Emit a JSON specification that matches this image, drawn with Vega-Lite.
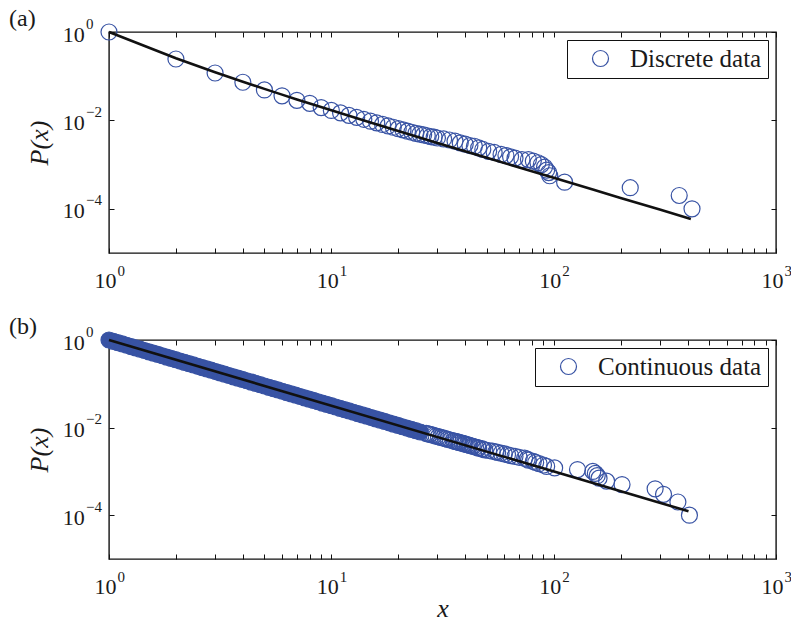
{
  "$schema": "https://vega.github.io/schema/vega-lite/v6.json",
  "padding": {"left": 8, "top": 6, "right": 0, "bottom": 0},
  "background": "white",
  "spacing": 22,
  "resolve": {"scale": {"color": "independent"}, "legend": {"color": "independent"}},
  "config": {
    "font": "Liberation Serif",
    "view": {"stroke": "#111", "strokeWidth": 1.4},
    "axis": {"grid": false, "domain": false, "labelFont": "Liberation Serif", "labelColor": "#1a1a1a", "titleFont": "Liberation Serif", "titleFontWeight": "normal", "titleColor": "#1a1a1a", "tickColor": "#111", "labelFlush": false, "labelOverlap": false},
    "legend": {"orient": "top-right", "offset": 8, "strokeColor": "#111", "fillColor": "white", "padding": 6, "labelFont": "Liberation Serif", "labelFontSize": 25, "labelLimit": 400, "labelColor": "#1a1a1a", "symbolSize": 256, "symbolStrokeWidth": 1.2, "symbolType": "circle", "symbolOffset": 15, "labelOffset": 17}
  },
  "datasets": {
    "disc": [
      {"x":1,"y":1},{"x":2,"y":0.245},{"x":3,"y":0.118},{"x":4,"y":0.073},{"x":5,"y":0.049},{"x":6,"y":0.036},{"x":7,"y":0.0285},{"x":8,"y":0.0243},{"x":9,"y":0.0195},{"x":10,"y":0.0168},
      {"x":11,"y":0.0148},{"x":12,"y":0.0130},{"x":13,"y":0.0117},{"x":14,"y":0.0106},{"x":15,"y":0.0096},{"x":16,"y":0.0088},{"x":17,"y":0.0081},{"x":18,"y":0.0075},{"x":19,"y":0.0070},{"x":20,"y":0.0065},
      {"x":21,"y":0.0061},{"x":22,"y":0.0057},{"x":23,"y":0.0054},{"x":24,"y":0.0051},{"x":25,"y":0.0049},{"x":26,"y":0.0047},{"x":27,"y":0.0045},{"x":28,"y":0.0043},{"x":29,"y":0.0042},{"x":30,"y":0.0040},
      {"x":32,"y":0.0038},{"x":34,"y":0.0036},{"x":36,"y":0.0034},{"x":38,"y":0.0031},{"x":40,"y":0.0029},{"x":42,"y":0.0027},{"x":44,"y":0.0026},{"x":46,"y":0.0024},{"x":48,"y":0.0022},{"x":51,"y":0.0020},
      {"x":54,"y":0.0019},{"x":58,"y":0.0017},{"x":61,"y":0.0016},{"x":64,"y":0.0015},{"x":67,"y":0.0014},{"x":72,"y":0.0013},{"x":77,"y":0.0013},{"x":81,"y":0.0012},{"x":85,"y":0.0011},{"x":88,"y":0.0010},
      {"x":91,"y":0.00088},{"x":93,"y":0.00075},{"x":95,"y":0.00066},{"x":96,"y":0.00056},{"x":112,"y":0.00040},{"x":221,"y":0.00030},{"x":367,"y":0.00020},{"x":419,"y":0.00010}
    ],
    "fitd": [
      {"x":1,"y":1},{"x":2,"y":0.2546},{"x":3,"y":0.1228},{"x":4,"y":0.0750},{"x":5,"y":0.05166},{"x":6,"y":0.03832},{"x":7,"y":0.02987},{"x":8,"y":0.02412},{"x":10,"y":0.01694},{"x":15,"y":0.00900},
      {"x":20,"y":0.00577},{"x":30,"y":0.00310},{"x":50,"y":0.001427},{"x":70,"y":0.000858},{"x":100,"y":0.000501},{"x":150,"y":0.000272},{"x":200,"y":0.000176},{"x":300,"y":0.0000959},{"x":414,"y":0.000059}
    ],
    "fitc": [{"x":1,"y":1},{"x":404,"y":0.000123}],
    "band": [
      {"x":1,"y":1},{"x":1.047,"y":0.9333},{"x":1.096,"y":0.8710},{"x":1.148,"y":0.8128},{"x":1.202,"y":0.7586},{"x":1.259,"y":0.7079},{"x":1.318,"y":0.6607},{"x":1.380,"y":0.6166},{"x":1.445,"y":0.5754},{"x":1.514,"y":0.5370},
      {"x":1.585,"y":0.5012},{"x":1.660,"y":0.4677},{"x":1.738,"y":0.4365},{"x":1.820,"y":0.4074},{"x":1.905,"y":0.3802},{"x":1.995,"y":0.3548},{"x":2.089,"y":0.3311},{"x":2.188,"y":0.3090},{"x":2.291,"y":0.2884},{"x":2.399,"y":0.2692},
      {"x":2.512,"y":0.2512},{"x":2.630,"y":0.2344},{"x":2.754,"y":0.2188},{"x":2.884,"y":0.2042},{"x":3.020,"y":0.1905},{"x":3.162,"y":0.1778},{"x":3.311,"y":0.1660},{"x":3.467,"y":0.1549},{"x":3.631,"y":0.1445},{"x":3.802,"y":0.1349},
      {"x":3.981,"y":0.1259},{"x":4.169,"y":0.1175},{"x":4.365,"y":0.1096},{"x":4.571,"y":0.1023},{"x":4.786,"y":0.09550},{"x":5.012,"y":0.08913},{"x":5.248,"y":0.08318},{"x":5.495,"y":0.07762},{"x":5.754,"y":0.07244},{"x":6.026,"y":0.06761},
      {"x":6.310,"y":0.06310},{"x":6.607,"y":0.05888},{"x":6.918,"y":0.05495},{"x":7.244,"y":0.05129},{"x":7.586,"y":0.04786},{"x":7.943,"y":0.04467},{"x":8.318,"y":0.04169},{"x":8.710,"y":0.03890},{"x":9.120,"y":0.03631},{"x":9.550,"y":0.03388},
      {"x":10.00,"y":0.03162},{"x":10.47,"y":0.02951},{"x":10.96,"y":0.02754},{"x":11.48,"y":0.02570},{"x":12.02,"y":0.02399},{"x":12.59,"y":0.02239},{"x":13.18,"y":0.02089},{"x":13.80,"y":0.01950},{"x":14.45,"y":0.01820},{"x":15.14,"y":0.01698},
      {"x":15.85,"y":0.01585},{"x":16.60,"y":0.01479},{"x":17.38,"y":0.01380},{"x":18.20,"y":0.01288},{"x":19.05,"y":0.01202},{"x":19.95,"y":0.01122},{"x":20.89,"y":0.01047},{"x":21.88,"y":0.009772},{"x":22.91,"y":0.009120},{"x":23.99,"y":0.008511},
      {"x":25.12,"y":0.007943}
    ],
    "cont": [
      {"x":26.7,"y":0.0074},{"x":27.2,"y":0.0072},{"x":27.8,"y":0.0070},{"x":28.4,"y":0.0068},{"x":29.0,"y":0.0066},{"x":29.6,"y":0.0064},{"x":30.3,"y":0.0062},{"x":31.0,"y":0.0060},{"x":31.8,"y":0.0058},{"x":32.6,"y":0.0056},
      {"x":33.4,"y":0.0054},{"x":34.3,"y":0.0052},{"x":35.3,"y":0.0050},{"x":35.8,"y":0.0049},{"x":36.4,"y":0.0048},{"x":37.0,"y":0.0047},{"x":37.5,"y":0.0046},{"x":38.0,"y":0.0045},{"x":38.8,"y":0.0044},{"x":39.5,"y":0.0043},
      {"x":40.0,"y":0.0042},{"x":40.8,"y":0.0041},{"x":41.5,"y":0.0040},{"x":42.0,"y":0.0039},{"x":43.0,"y":0.0038},{"x":43.5,"y":0.0037},{"x":44.5,"y":0.0036},{"x":45.5,"y":0.0035},{"x":46.0,"y":0.0034},{"x":47.5,"y":0.0033},
      {"x":48.0,"y":0.0032},{"x":49.0,"y":0.0031},{"x":51,"y":0.0030},{"x":53,"y":0.0029},{"x":55,"y":0.0028},{"x":56,"y":0.0027},{"x":58,"y":0.0026},{"x":60,"y":0.0025},{"x":62,"y":0.0024},{"x":64,"y":0.0023},
      {"x":67,"y":0.0022},{"x":70,"y":0.0021},{"x":74,"y":0.0020},{"x":76,"y":0.0019},{"x":77,"y":0.0018},{"x":81,"y":0.0017},{"x":83,"y":0.0016},{"x":86,"y":0.0015},{"x":90,"y":0.0014},{"x":93,"y":0.0013},
      {"x":101,"y":0.0012},{"x":128,"y":0.0011},{"x":150,"y":0.0010},{"x":154,"y":0.0009},{"x":157,"y":0.0008},{"x":160,"y":0.0007},{"x":173,"y":0.0006},{"x":203,"y":0.0005},{"x":286,"y":0.0004},{"x":312,"y":0.0003},
      {"x":362,"y":0.0002},{"x":408,"y":0.0001}
    ]
  },
  "vconcat": [
    {
      "width": 667,
      "height": 221,
      "title": {"text": "(a)", "anchor": "start", "frame": "group", "dx": -100, "dy": 10, "offset": -24, "fontSize": 24, "fontWeight": "normal", "font": "Liberation Serif", "color": "#1a1a1a", "baseline": "alphabetic"},
      "resolve": {"axis": {"x": "independent", "y": "independent"}},
      "layer": [
        {
          "data": {"name": "disc"},
          "mark": {"type": "point", "shape": "circle", "filled": false, "size": 256, "strokeWidth": 1.2, "opacity": 1},
          "encoding": {
            "x": {"field": "x", "type": "quantitative", "scale": {"type": "log", "domain": [1, 1000], "nice": false},
              "axis": {"orient": "bottom", "values": [1, 10, 100, 1000], "ticks": false, "labelExpr": "datum.value < 5 ? '0' : datum.value < 50 ? '1' : datum.value < 500 ? '2' : '3'", "labelFont": "Liberation Serif", "labelFontSize": 15, "labelAlign": "left", "labelBaseline": "alphabetic", "labelPadding": 22, "labelOffset": 8, "title": null}},
            "y": {"field": "y", "type": "quantitative", "scale": {"type": "log", "domain": [0.00001, 1], "nice": false},
              "axis": {"orient": "left", "values": [1, 0.01, 0.0001], "ticks": false, "labelExpr": "datum.value > 0.5 ? '0' : datum.value > 0.001 ? '\u22122' : '\u22124'", "labelFont": "Liberation Serif", "labelFontSize": 15, "labelAlign": "left", "labelBaseline": "alphabetic", "labelPadding": 23.5, "labelOffset": -4, "title": null}},
            "color": {"datum": "Discrete data", "type": "nominal", "scale": {"range": ["#3853a4"]}, "legend": {"title": null, "labelFont": "Liberation Serif", "labelFontSize": 25, "labelLimit": 400, "orient": "top-right", "offset": 8, "strokeColor": "#111", "fillColor": "white", "padding": 6, "symbolSize": 256, "symbolStrokeWidth": 1.2, "symbolOffset": 15, "labelOffset": 17}}
          }
        },
        {
          "data": {"name": "fitd"},
          "mark": {"type": "point", "opacity": 0},
          "encoding": {
            "x": {"field": "x", "type": "quantitative", "axis": {"orient": "bottom", "values": [1,2,3,4,5,6,7,8,9,10,20,30,40,50,60,70,80,90,100,200,300,400,500,600,700,800,900,1000], "labels": false, "tickSize": -5, "tickWidth": 1, "title": null}},
            "y": {"field": "y", "type": "quantitative", "axis": {"orient": "left", "values": [1, 0.01, 0.0001], "labels": false, "tickSize": -5, "tickWidth": 1, "title": null}}
          }
        },
        {
          "data": {"name": "fitd"},
          "mark": {"type": "point", "opacity": 0},
          "encoding": {
            "x": {"field": "x", "type": "quantitative", "axis": {"orient": "top", "values": [1,2,3,4,5,6,7,8,9,10,20,30,40,50,60,70,80,90,100,200,300,400,500,600,700,800,900,1000], "labels": false, "tickSize": -5, "tickWidth": 1, "title": null}},
            "y": {"field": "y", "type": "quantitative", "axis": {"orient": "right", "values": [1, 0.01, 0.0001], "labels": false, "tickSize": -5, "tickWidth": 1, "title": null}}
          }
        },
        {
          "data": {"name": "fitd"},
          "mark": {"type": "line", "color": "#111", "strokeWidth": 2.6},
          "encoding": {
            "x": {"field": "x", "type": "quantitative",
              "axis": {"orient": "bottom", "values": [1, 10, 100, 1000], "ticks": false, "labelExpr": "'10'", "labelFont": "Liberation Serif", "labelFontSize": 22, "labelAlign": "right", "labelBaseline": "alphabetic", "labelPadding": 34, "labelOffset": 7, "title": null}},
            "y": {"field": "y", "type": "quantitative",
              "axis": {"orient": "left", "values": [1, 0.01, 0.0001], "ticks": false, "labelExpr": "'10'", "labelFont": "Liberation Serif", "labelFontSize": 22, "labelAlign": "right", "labelBaseline": "alphabetic", "labelPadding": 24.7, "labelOffset": 9, "title": "P(x)", "titleFont": "Liberation Serif", "titleFontSize": 26, "titleFontStyle": "italic", "titlePadding": 10}}
          }
        }
      ]
    },
    {
      "width": 667,
      "height": 219,
      "title": {"text": "(b)", "anchor": "start", "frame": "group", "dx": -100, "dy": 10, "offset": -24, "fontSize": 24, "fontWeight": "normal", "font": "Liberation Serif", "color": "#1a1a1a", "baseline": "alphabetic"},
      "resolve": {"axis": {"x": "independent", "y": "independent"}},
      "layer": [
        {
          "data": {"name": "band"},
          "mark": {"type": "point", "shape": "circle", "filled": true, "size": 256, "color": "#3853a4", "stroke": "#3853a4", "strokeWidth": 1.2, "opacity": 1},
          "encoding": {
            "x": {"field": "x", "type": "quantitative", "scale": {"type": "log", "domain": [1, 1000], "nice": false},
              "axis": {"orient": "bottom", "values": [1,2,3,4,5,6,7,8,9,10,20,30,40,50,60,70,80,90,100,200,300,400,500,600,700,800,900,1000], "labels": false, "tickSize": -5, "tickWidth": 1, "title": null}},
            "y": {"field": "y", "type": "quantitative", "scale": {"type": "log", "domain": [0.00001, 1], "nice": false},
              "axis": {"orient": "left", "values": [1, 0.01, 0.0001], "labels": false, "tickSize": -5, "tickWidth": 1, "title": null}}
          }
        },
        {
          "data": {"name": "cont"},
          "mark": {"type": "point", "shape": "circle", "filled": false, "size": 256, "strokeWidth": 1.2, "opacity": 1},
          "encoding": {
            "x": {"field": "x", "type": "quantitative",
              "axis": {"orient": "bottom", "values": [1, 10, 100, 1000], "ticks": false, "labelExpr": "datum.value < 5 ? '0' : datum.value < 50 ? '1' : datum.value < 500 ? '2' : '3'", "labelFont": "Liberation Serif", "labelFontSize": 15, "labelAlign": "left", "labelBaseline": "alphabetic", "labelPadding": 22, "labelOffset": 8, "title": null}},
            "y": {"field": "y", "type": "quantitative",
              "axis": {"orient": "left", "values": [1, 0.01, 0.0001], "ticks": false, "labelExpr": "datum.value > 0.5 ? '0' : datum.value > 0.001 ? '\u22122' : '\u22124'", "labelFont": "Liberation Serif", "labelFontSize": 15, "labelAlign": "left", "labelBaseline": "alphabetic", "labelPadding": 23.5, "labelOffset": -4, "title": null}},
            "color": {"datum": "Continuous data", "type": "nominal", "scale": {"range": ["#3853a4"]}, "legend": {"title": null, "labelFont": "Liberation Serif", "labelFontSize": 25, "labelLimit": 400, "orient": "top-right", "offset": 8, "strokeColor": "#111", "fillColor": "white", "padding": 6, "symbolSize": 256, "symbolStrokeWidth": 1.2, "symbolOffset": 15, "labelOffset": 17}}
          }
        },
        {
          "data": {"name": "fitc"},
          "mark": {"type": "point", "opacity": 0},
          "encoding": {
            "x": {"field": "x", "type": "quantitative", "axis": {"orient": "top", "values": [1,2,3,4,5,6,7,8,9,10,20,30,40,50,60,70,80,90,100,200,300,400,500,600,700,800,900,1000], "labels": false, "tickSize": -5, "tickWidth": 1, "title": null}},
            "y": {"field": "y", "type": "quantitative", "axis": {"orient": "right", "values": [1, 0.01, 0.0001], "labels": false, "tickSize": -5, "tickWidth": 1, "title": null}}
          }
        },
        {
          "data": {"name": "fitc"},
          "mark": {"type": "line", "color": "#111", "strokeWidth": 2.6},
          "encoding": {
            "x": {"field": "x", "type": "quantitative",
              "axis": {"orient": "bottom", "values": [1, 10, 100, 1000], "ticks": false, "labelExpr": "'10'", "labelFont": "Liberation Serif", "labelFontSize": 22, "labelAlign": "right", "labelBaseline": "alphabetic", "labelPadding": 34, "labelOffset": 7, "title": "x", "titleFont": "Liberation Serif", "titleFontSize": 26, "titleFontStyle": "italic", "titleBaseline": "alphabetic", "titlePadding": 19}},
            "y": {"field": "y", "type": "quantitative",
              "axis": {"orient": "left", "values": [1, 0.01, 0.0001], "ticks": false, "labelExpr": "'10'", "labelFont": "Liberation Serif", "labelFontSize": 22, "labelAlign": "right", "labelBaseline": "alphabetic", "labelPadding": 24.7, "labelOffset": 9, "title": "P(x)", "titleFont": "Liberation Serif", "titleFontSize": 26, "titleFontStyle": "italic", "titlePadding": 10}}
          }
        }
      ]
    }
  ]
}
